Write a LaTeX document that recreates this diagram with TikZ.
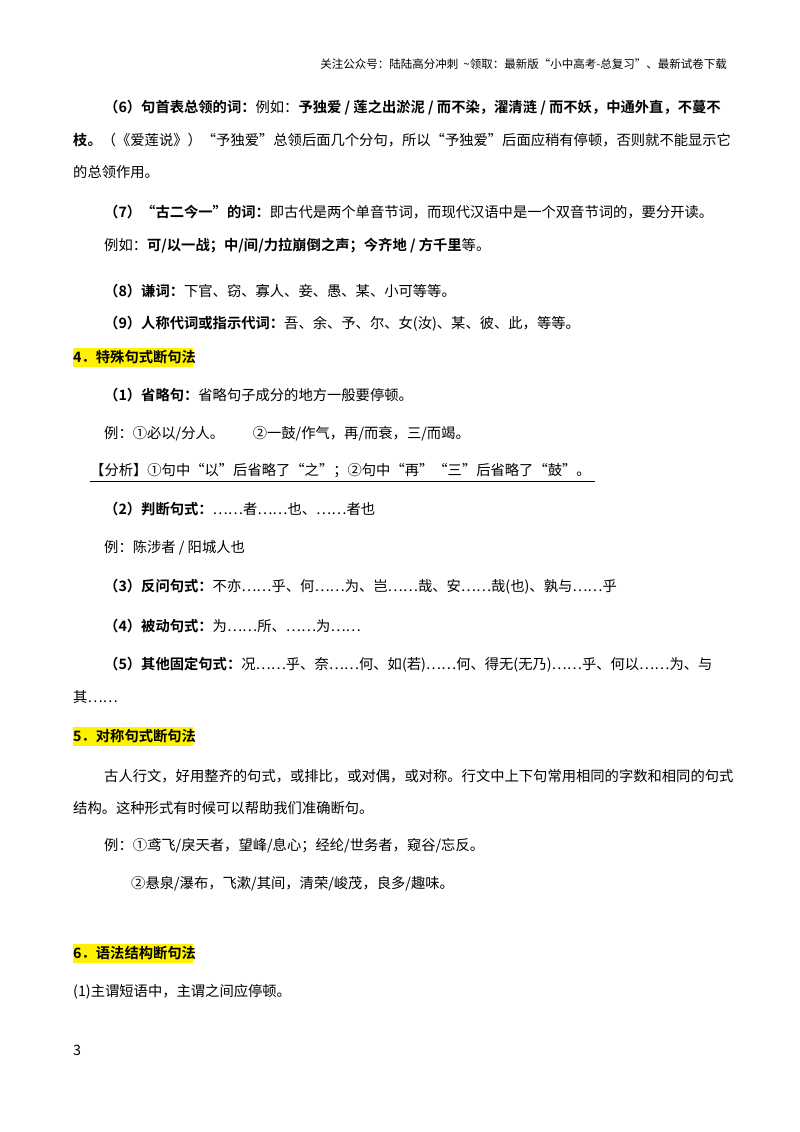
\documentclass[tikz,border=0pt]{standalone}
\usepackage{fontspec}
\setmainfont{Noto Sans CJK SC}
\newfontfamily\cjkb{Noto Sans CJK SC Bold}
\tikzset{ln/.style={anchor=west,inner sep=0pt,font=\fontsize{14.3}{16}\selectfont},
 hl/.style={fill=yellow,draw=none}}
\begin{document}
\begin{tikzpicture}[x=1pt,y=-1pt]
\useasboundingbox (0,0) rectangle (800,1132);
\fill[white] (0,0) rectangle (800,1132);
\node[anchor=east,inner sep=0pt,font=\fontsize{11.5}{13}\selectfont] (hd) at (727,64) {关注公众号：陆陆高分冲刺\ \ \~{}领取：最新版“小中高考-总复习”、最新试卷下载};
\node[ln] (l1) at (104,108) {{\cjkb（6）句首表总领的词：}例如：{\cjkb 予独爱 / 莲之出淤泥 / 而不染，濯清涟 / 而不妖，中通外直，不蔓不}};
\node[ln] (l2) at (73,140) {{\cjkb 枝。}（《爱莲说》）“予独爱”总领后面几个分句，所以“予独爱”后面应稍有停顿，否则就不能显示它};
\node[ln] (l3) at (73,172) {的总领作用。};
\node[ln] (l4) at (104,212) {{\cjkb（7）“古二今一”的词：}即古代是两个单音节词，而现代汉语中是一个双音节词的，要分开读。};
\node[ln] (l5) at (104,246) {例如：{\cjkb 可/以一战；中/间/力拉崩倒之声；今齐地 / 方千里}等。};
\node[ln] (l6) at (104,291) {{\cjkb（8）谦词：}下官、窃、寡人、妾、愚、某、小可等等。};
\node[ln] (l7) at (104,324) {{\cjkb（9）人称代词或指示代词：}吾、余、予、尔、女(汝)、某、彼、此，等等。};
\fill[hl] (73,348) rectangle (193,367);
\node[ln] (h4) at (73,357) {\cjkb 4．特殊句式断句法};
\node[ln] (l8) at (104,395) {{\cjkb（1）省略句：}省略句子成分的地方一般要停顿。};
\node[ln] (l9) at (104,434) {例：①必以/分人。\qquad ②一鼓/作气，再/而衰，三/而竭。};
\node[ln] (l10) at (90,471) {【分析】①句中“以”后省略了“之”；②句中“再”“三”后省略了“鼓”。};
\draw[line width=0.8pt] (l10.south west) ++(0,3) -- ++(505,0);
\node[ln] (l11) at (104,509) {{\cjkb（2）判断句式：}……者……也、……者也};
\node[ln] (l12) at (104,548) {例：陈涉者 / 阳城人也};
\node[ln] (l13) at (104,587) {{\cjkb（3）反问句式：}不亦……乎、何……为、岂……哉、安……哉(也)、孰与……乎};
\node[ln] (l14) at (104,626) {{\cjkb（4）被动句式：}为……所、……为……};
\node[ln] (l15) at (104,665) {{\cjkb（5）其他固定句式：}况……乎、奈……何、如(若)……何、得无(无乃)……乎、何以……为、与};
\node[ln] (l16) at (73,697) {其……};
\fill[hl] (73,727) rectangle (193,746);
\node[ln] (h5) at (73,736) {\cjkb 5．对称句式断句法};
\node[ln] (l17) at (104,776) {古人行文，好用整齐的句式，或排比，或对偶，或对称。行文中上下句常用相同的字数和相同的句式};
\node[ln] (l18) at (73,808) {结构。这种形式有时候可以帮助我们准确断句。};
\node[ln] (l19) at (104,846) {例：①鸢飞/戾天者，望峰/息心；经纶/世务者，窥谷/忘反。};
\node[ln] (l20) at (131,884) {②悬泉/瀑布，飞漱/其间，清荣/峻茂，良多/趣味。};
\fill[hl] (73,944) rectangle (193,963);
\node[ln] (h6) at (73,953) {\cjkb 6．语法结构断句法};
\node[ln] (l21) at (73,992) {(1)主谓短语中，主谓之间应停顿。};
\node[ln] (pg) at (73,1050) {3};
\end{tikzpicture}
\end{document}
